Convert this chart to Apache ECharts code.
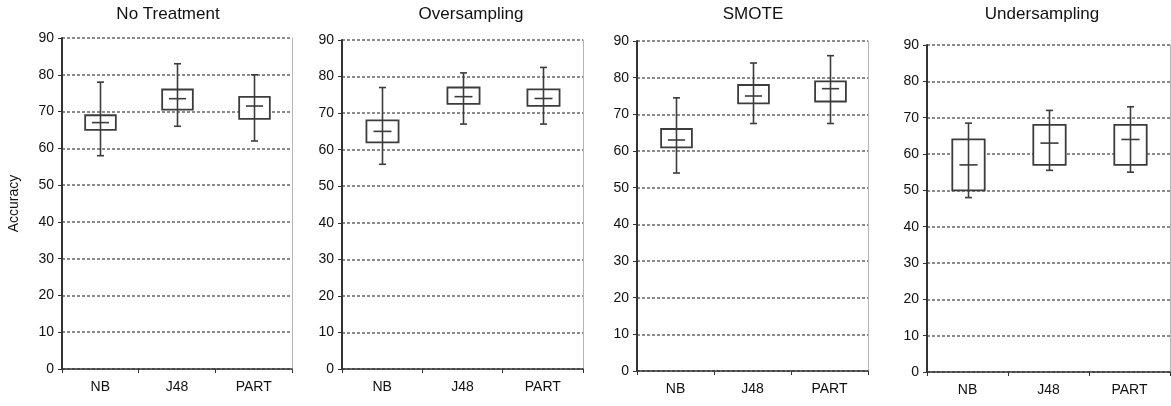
<!DOCTYPE html>
<html>
<head>
<meta charset="utf-8">
<script src="https://cdn.jsdelivr.net/npm/echarts@6/dist/echarts.min.js"></script>
<style>
  html, body { margin: 0; padding: 0; background: #fff; }
  #main { width: 1171px; height: 406px; }
</style>
</head>
<body>
<div id="main"></div>
<script>
// categories and panels
var categories = ['NB', 'J48', 'PART'];
var panelTitles = ['No Treatment', 'Oversampling', 'SMOTE', 'Undersampling'];
var yTicks = [0, 10, 20, 30, 40, 50, 60, 70, 80, 90];

// per panel, per category: [min, boxLow, mean, boxHigh, max]
var noTreatment = [
    [58, 65, 67, 69, 78],
    [66, 70.5, 73.5, 76, 83],
    [62, 68, 71.5, 74, 80]
];
var oversampling = [
    [56, 62, 65, 68, 77],
    [67, 72.5, 74.5, 77, 81],
    [67, 72, 74, 76.5, 82.5]
];
var smote = [
    [54, 61, 63, 66, 74.5],
    [67.5, 73, 75, 78, 84],
    [67.5, 73.5, 77, 79, 86]
];
var undersampling = [
    [48, 50, 57, 64, 68.5],
    [55.5, 57, 63, 68, 72],
    [55, 57, 64, 68, 73]
];
var panelData = [noTreatment, oversampling, smote, undersampling];

// layout of the four plot areas (px)
var grids = [
    { left: 62, top: 38, width: 230, height: 331 },
    { left: 342, top: 40, width: 241, height: 329 },
    { left: 637, top: 41, width: 231, height: 330 },
    { left: 927, top: 45, width: 243, height: 327 }
];
var titleCenters = [163, 466, 748, 1037];

var FONT = 'Liberation Sans, Arial, sans-serif';
var STROKE = '#3c3c3c';

function seg(x1, y1, x2, y2) {
    return {
        type: 'line',
        shape: { x1: x1, y1: y1, x2: x2, y2: y2 },
        style: { stroke: STROKE, lineWidth: 1.6 }
    };
}

// white box
function renderRect(params, api) {
    var x = api.value(0);
    var q1 = api.coord([x, api.value(2)]);
    var q3 = api.coord([x, api.value(4)]);
    var bw = api.size([1, 0])[0] * 0.4;
    var cx = Math.round(q1[0]) + 0.5;
    return {
        type: 'rect',
        shape: { x: cx - bw / 2, y: q3[1], width: bw, height: q1[1] - q3[1] },
        style: { fill: '#fff', stroke: STROKE, lineWidth: 1.8 }
    };
}

// whisker through the box, caps and mean mark
function renderWhisker(params, api) {
    var x = api.value(0);
    var lo = api.coord([x, api.value(1)]);
    var mean = api.coord([x, api.value(3)]);
    var hi = api.coord([x, api.value(5)]);
    var bw = api.size([1, 0])[0] * 0.4;
    var cx = Math.round(lo[0]) + 0.5;
    var cap = 3.5;
    var ml = bw * 0.28;
    return {
        type: 'group',
        children: [
            seg(cx, hi[1], cx, lo[1]),
            seg(cx - cap, hi[1], cx + cap, hi[1]),
            seg(cx - cap, lo[1], cx + cap, lo[1]),
            seg(cx - ml, mean[1], cx + ml, mean[1])
        ]
    };
}

var option = {
    backgroundColor: '#fff',
    animation: false,
    title: [],
    grid: [],
    xAxis: [],
    yAxis: [],
    series: []
};

for (var p = 0; p < 4; p++) {
    option.title.push({
        text: panelTitles[p],
        left: titleCenters[p],
        top: 1,
        textAlign: 'center',
        textStyle: { fontFamily: FONT, fontSize: 17, fontWeight: 'normal', color: '#111' }
    });
    option.grid.push(grids[p]);
    option.xAxis.push({
        type: 'category',
        gridIndex: p,
        data: categories,
        boundaryGap: true,
        axisLine: { lineStyle: { color: '#333', width: 1.5 } },
        axisTick: { show: true, length: 4, lineStyle: { color: '#333' } },
        axisLabel: { fontFamily: FONT, fontSize: 14, color: '#111', margin: 11 }
    });
    option.yAxis.push({
        type: 'value',
        gridIndex: p,
        min: 0,
        max: 90,
        interval: 10,
        name: p === 0 ? 'Accuracy' : '',
        nameLocation: 'middle',
        nameGap: 41,
        nameTextStyle: { fontFamily: FONT, fontSize: 14, color: '#111' },
        axisLine: { show: true, lineStyle: { color: '#333', width: 2 } },
        axisTick: { show: true, length: 4, lineStyle: { color: '#333' } },
        axisLabel: {
            fontFamily: FONT, fontSize: 14, color: '#111', margin: 8,
            formatter: function (v) { return yTicks.indexOf(v) >= 0 ? String(v) : ''; }
        },
        splitLine: { show: true, lineStyle: { color: '#666', type: [3, 2], width: 1.5 } }
    });
    // right frame line
    option.yAxis.push({
        type: 'value',
        gridIndex: p,
        position: 'right',
        min: 0,
        max: 90,
        interval: 10,
        axisLine: { show: true, lineStyle: { color: '#b5b5b5', width: 1 } },
        axisTick: { show: false },
        axisLabel: { show: false },
        splitLine: { show: false }
    });
    var rows = panelData[p].map(function (d, i) {
        return [i, d[0], d[1], d[2], d[3], d[4]];
    });
    option.series.push({
        type: 'custom',
        xAxisIndex: p,
        yAxisIndex: p * 2,
        renderItem: renderRect,
        encode: { x: 0, y: [1, 2, 3, 4, 5] },
        data: rows,
        z: 4
    });
    option.series.push({
        type: 'custom',
        xAxisIndex: p,
        yAxisIndex: p * 2,
        renderItem: renderWhisker,
        encode: { x: 0, y: [1, 2, 3, 4, 5] },
        data: rows,
        z: 6
    });
}

var myChart = echarts.init(document.getElementById('main'));
myChart.setOption(option);
</script>
</body>
</html>
